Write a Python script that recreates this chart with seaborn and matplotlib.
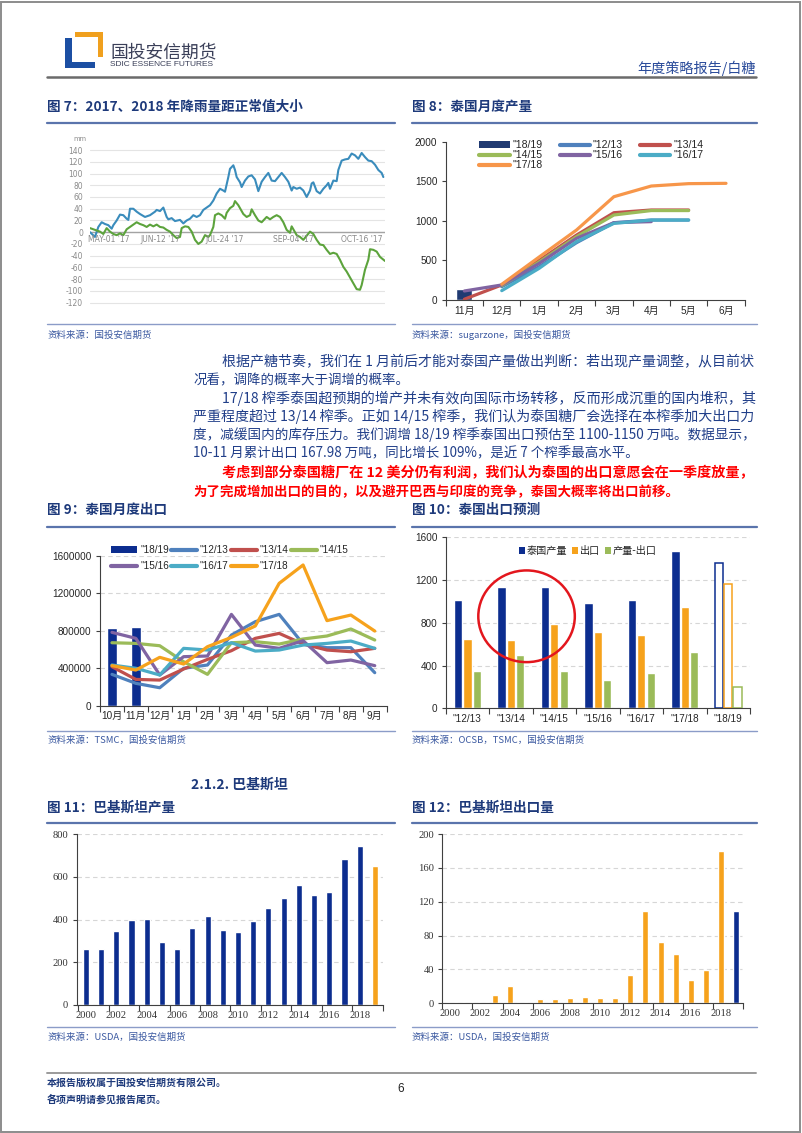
import numpy as np
import pandas as pd
import matplotlib
matplotlib.use("Agg")
import matplotlib.pyplot as plt
import seaborn as sns
from matplotlib.patches import Rectangle, Ellipse, Patch
from matplotlib.lines import Line2D

sns.set_theme(style="white")
plt.rcParams['font.family'] = ['Noto Sans CJK SC', 'DejaVu Sans']
plt.rcParams['axes.unicode_minus'] = False

# ---------------- data ----------------
# Fig 7: rainfall departure (mm), day index from late April 2017
rain_day_2017 = [0, 3, 5, 7, 9, 11, 13, 14, 16, 18, 20, 22, 23, 24, 26, 28, 30, 33, 36, 39, 40, 42, 44, 46, 47,
                 49, 51, 54, 56, 58, 60, 62, 64, 66, 68, 70, 72, 74, 76, 78, 80, 81, 83, 84, 86, 87, 88, 90, 91, 93,
                 95, 97, 99, 101, 103, 105, 107, 109, 111, 113, 115, 117, 119, 121, 122, 124, 126, 128, 130, 132,
                 133, 134, 136, 138, 140, 142, 143, 144, 146, 148, 149, 151, 153, 155, 157, 159, 161, 163, 165, 167,
                 169, 171, 173, 175, 176]
rain_2017 = [0, -8, 9, 17, 14, 12, 6, 12, 20, 30, 29, 23, 21, 40, 40, 35, 31, 26, 29, 35, 38, 36, 42, 26, 22,
             24, 19, 21, 15, 20, 23, 29, 26, 29, 38, 42, 46, 54, 66, 74, 71, 69, 94, 108, 114, 106, 94, 85, 77, 88,
             95, 97, 90, 70, 86, 94, 101, 88, 87, 94, 101, 94, 86, 71, 77, 74, 76, 71, 60, 71, 83, 85, 70, 66, 74,
             80, 84, 74, 88, 87, 106, 122, 124, 125, 134, 131, 125, 135, 128, 122, 121, 115, 106, 101, 94]
rain_day_2018 = [0, 3, 6, 8, 10, 12, 14, 16, 18, 20, 22, 24, 26, 28, 30, 32, 34, 36, 38, 40, 42, 44, 46, 48, 50,
                 52, 54, 55, 57, 59, 61, 63, 65, 67, 69, 71, 72, 74, 75, 77, 79, 81, 82, 84, 86, 87, 89, 90, 92, 94,
                 96, 97, 99, 101, 103, 105, 106, 108, 110, 112, 114, 116, 118, 120, 121, 122, 124, 126, 128, 130,
                 132, 134, 136, 138, 140, 142, 144, 146, 148, 150, 152, 154, 156, 158, 160, 162, 163, 165, 167, 168,
                 170, 172, 174, 177]
rain_2018 = [7, 4, 1, -3, 7, 1, -3, -5, -2, -5, 5, 9, 13, 17, 14, 12, 9, 13, 10, 13, 9, 8, 4, 1, -5,
             -10, -8, 7, 10, 9, 1, -13, -20, -16, -5, -8, -5, 9, 29, 32, 29, 23, 33, 41, 45, 53, 46, 41, 31, 26,
             29, 39, 29, 20, 17, 23, 26, 22, 26, 29, 26, 17, 4, -1, 10, 5, -5, -8, -13, -6, 1, -3, -13, -21, -22,
             -30, -37, -35, -37, -47, -59, -67, -77, -87, -97, -98, -90, -64, -47, -29, -30, -33, -42, -49]
rain_yticks = [-120, -100, -80, -60, -40, -20, 0, 20, 40, 60, 80, 100, 120, 140]
rain_tick_days = [11, 42, 81, 122, 163]
rain_tick_labels = ["MAY-01 '17", "JUN-12 '17", "JUL-24 '17", "SEP-04 '17", "OCT-16 '17"]

# Fig 8: Thai monthly cumulative production
prod_months = ['11月', '12月', '1月', '2月', '3月', '4月', '5月', '6月']
prod_1819 = [140]
prod_1213 = [np.nan, 168, 420, 724, 977, 1010, 1010, np.nan]
prod_1314 = [10, 190, 500, 820, 1103, 1137, 1137, np.nan]
prod_1415 = [np.nan, 180, 480, 800, 1074, 1130, 1130, np.nan]
prod_1516 = [114, 190, 463, 779, 977, 990, np.nan, np.nan]
prod_1617 = [np.nan, 118, 400, 737, 968, 1010, 1010, np.nan]
prod_1718 = [np.nan, 198, 543, 884, 1305, 1440, 1470, 1474]
prod_yticks = [0, 500, 1000, 1500, 2000]

season_labels = ['"18/19', '"12/13', '"13/14', '"14/15', '"15/16', '"16/17', '"17/18']

# Fig 9: Thai monthly exports
exp_months = ['10月', '11月', '12月', '1月', '2月', '3月', '4月', '5月', '6月', '7月', '8月', '9月']
exp_1819 = [826000, 845000]
exp_1213 = [335000, 239000, 192000, 400000, 435000, 755000, 898000, 976000, 660000, 620000, 620000, 353000]
exp_1314 = [417000, 281000, 274000, 392000, 495000, 588000, 720000, 773000, 659000, 595000, 577000, 613000]
exp_1415 = [673000, 666000, 641000, 470000, 335000, 673000, 684000, 659000, 713000, 745000, 820000, 702000]
exp_1516 = [784000, 720000, 328000, 524000, 531000, 976000, 648000, 613000, 695000, 460000, 488000, 428000]
exp_1617 = [435000, 400000, 328000, 613000, 595000, 673000, 584000, 595000, 648000, 666000, 691000, 613000]
exp_1718 = [428000, 381000, 517000, 445000, 631000, 730000, 852000, 1308000, 1504000, 909000, 969000, 798000]
exp_yticks = [0, 400000, 800000, 1200000, 1600000]

# Fig 10: Thai export forecast
fc_seasons = ['"12/13', '"13/14', '"14/15', '"15/16', '"16/17', '"17/18', '"18/19']
fc_items = ['泰国产量', '出口', '产量-出口']
fc_production = [1014, 1135, 1135, 982, 1014, 1475, 1357]
fc_export = [652, 639, 786, 717, 683, 945, 1160]
fc_surplus = [352, 496, 352, 262, 331, 527, 203]
fc_yticks = [0, 400, 800, 1200, 1600]

# Fig 11 / 12: Pakistan
pak_years = ['2000', '2001', '2002', '2003', '2004', '2005', '2006', '2007', '2008', '2009',
             '2010', '2011', '2012', '2013', '2014', '2015', '2016', '2017', '2018', '2019']
pak_production = [261, 264, 347, 397, 403, 294, 261, 362, 416, 350, 344, 392, 453, 503, 563, 517, 528, 683, 744, 653]
pak_exports = [0, 0, 0, 10, 20.5, 0, 5.5, 5.5, 6.3, 7.5, 6.3, 6.3, 34, 109, 72, 58, 27.6, 39.8, 179.5, 109.5]
pak_kind = ['预测' if y == '2019' else '历史' for y in pak_years]
pak_prod_yticks = [0, 200, 400, 600, 800]
pak_exp_yticks = [0, 40, 80, 120, 160, 200]

# ---------------- styling ----------------
NAVY = '#0c2d8f'
ORANGE = '#f6a21c'
GREEN = '#9bbb59'
TITLE_C = '#1e3a7b'
TXT_C = '#213f89'
RULE_C = '#5a74ac'
SRC_C = '#3a58a0'
SANS = ['Liberation Sans', 'Noto Sans CJK SC']
SERIF = ['Liberation Serif', 'Noto Sans CJK SC']

W, H = 802, 1133
fig = plt.figure(figsize=(W / 100, H / 100), dpi=100)
fig.patch.set_facecolor('white')


def add_ax(l, t, r, b):
    return fig.add_axes([l / W, 1 - b / H, (r - l) / W, (b - t) / H])


def ftext(x, y, s, **kw):
    return fig.text(x / W, 1 - y / H, s, **kw)


def hline(x0, x1, y, color, lw):
    fig.add_artist(Line2D([x0 / W, x1 / W], [1 - y / H, 1 - y / H], color=color, lw=lw,
                          transform=fig.transFigure))


def frect(x0, y0, x1, y1, color):
    fig.add_artist(Rectangle((x0 / W, 1 - y1 / H), (x1 - x0) / W, (y1 - y0) / H,
                             transform=fig.transFigure, facecolor=color, edgecolor='none'))


def set_font(ax, fam, size, color='#262626'):
    for lbl in ax.get_xticklabels() + ax.get_yticklabels():
        lbl.set_fontfamily(fam)
        lbl.set_fontsize(size)
        lbl.set_color(color)


def cat_axes(ax, n, ticks, labels, yticks, ylim, xlim, grid=False, minor_every=1):
    ax.set_xlim(*xlim)
    ax.set_ylim(*ylim)
    ax.set_xticks(ticks)
    ax.set_xticklabels(labels)
    ax.set_xticks(np.arange(-0.5, n, minor_every), minor=True)
    ax.set_yticks(yticks)
    ax.set_yticklabels([str(v) for v in yticks])
    ax.tick_params(axis='x', which='major', length=0, pad=4)
    ax.tick_params(axis='x', which='minor', length=4, width=0.8, bottom=True, color='#404040')
    ax.tick_params(axis='y', length=3, width=0.8, left=True, pad=3, color='#404040')
    for s in ['top', 'right']:
        ax.spines[s].set_visible(False)
    for s in ['left', 'bottom']:
        ax.spines[s].set_color('#404040')
        ax.spines[s].set_linewidth(0.8)
    ax.set_xlabel('')
    ax.set_ylabel('')
    if grid:
        ax.yaxis.grid(True, color='#d6d6d6', lw=0.8, ls=(0, (4, 3)))
        ax.set_axisbelow(True)


# ---------------- page frame / header / footer ----------------
fig.add_artist(Rectangle((0.001, 0.001), 0.997, 0.997, transform=fig.transFigure,
                         facecolor='none', edgecolor='#8c8c8c', lw=1.4))
frect(65, 38, 71.5, 68.3, '#1c4fa3')
frect(65, 61.7, 95, 68.3, '#1c4fa3')
frect(75, 31.7, 103.3, 37, '#f0a01e')
frect(97.5, 31.7, 103.3, 56.7, '#f0a01e')
ftext(110, 52, '国投安信期货', fontsize=12.8, color='#3a3f58', va='center', ha='left')
ftext(110, 65, 'SDIC ESSENCE FUTURES', fontsize=6.0, color='#3a3f58', va='center', ha='left',
      family='Liberation Sans')
ftext(756, 68, '年度策略报告/白糖', fontsize=10.2, color='#2b4c9b', va='center', ha='right')
hline(47, 756, 77, '#6b6b6b', 1.8)

hline(47, 756, 1073, '#9a9a9a', 1.4)
ftext(47, 1083, '本报告版权属于国投安信期货有限公司。', fontsize=7.2, color=TITLE_C, fontweight='bold',
      va='center')
ftext(47, 1099, '各项声明请参见报告尾页。', fontsize=7.2, color=TITLE_C, fontweight='bold', va='center')
ftext(401, 1089, '6', fontsize=8.5, color='#222222', va='center', ha='center', family='Liberation Sans')

# titles, rules and sources
for (x, y, s) in [(47, 107, '图 7：2017、2018 年降雨量距正常值大小'), (412, 107, '图 8：泰国月度产量'),
                  (47, 510, '图 9：泰国月度出口'), (412, 510, '图 10：泰国出口预测'),
                  (47, 808, '图 11：巴基斯坦产量'), (412, 808, '图 12：巴基斯坦出口量')]:
    ftext(x, y, s, fontsize=9.8, fontweight='bold', color=TITLE_C, va='center')
ftext(191, 785, '2.1.2. 巴基斯坦', fontsize=10, fontweight='bold', color=TITLE_C, va='center')
for y in [122.7, 526.7, 823.3]:
    hline(47, 395, y, RULE_C, 1.6)
    hline(412, 757, y, RULE_C, 1.6)
for y in [324, 730.7, 1026.7]:
    hline(47, 395, y, '#8b9cc8', 1.0)
    hline(412, 757, y, '#8b9cc8', 1.0)
for (x, y, s) in [(47, 335, '资料来源：国投安信期货'), (412, 335, '资料来源：sugarzone，国投安信期货'),
                  (47, 740, '资料来源：TSMC，国投安信期货'), (412, 740, '资料来源：OCSB，TSMC，国投安信期货'),
                  (47, 1036.7, '资料来源：USDA，国投安信期货'), (412, 1036.7, '资料来源：USDA，国投安信期货')]:
    ftext(x, y, s, fontsize=6.8, color=SRC_C, va='center', style='italic')

# paragraph (full lines stretched to the right margin)
para = [
    (221.7, 361.7, '根据产糖节奏，我们在 1 月前后才能对泰国产量做出判断：若出现产量调整，从目前状', TXT_C, 'normal', True),
    (193.3, 380.0, '况看，调降的概率大于调增的概率。', TXT_C, 'normal', False),
    (221.7, 398.3, '17/18 榨季泰国超预期的增产并未有效向国际市场转移，反而形成沉重的国内堆积，其', TXT_C, 'normal', True),
    (193.3, 416.7, '严重程度超过 13/14 榨季。正如 14/15 榨季，我们认为泰国糖厂会选择在本榨季加大出口力', TXT_C, 'normal', True),
    (193.3, 435.0, '度，减缓国内的库存压力。我们调增 18/19 榨季泰国出口预估至 1100-1150 万吨。数据显示，', TXT_C, 'normal', True),
    (193.3, 453.3, '10-11 月累计出口 167.98 万吨，同比增长 109%，是近 7 个榨季最高水平。', TXT_C, 'normal', False),
    (221.7, 473.3, '考虑到部分泰国糖厂在 12 美分仍有利润，我们认为泰国的出口意愿会在一季度放量，', '#ff0000', 'bold', True),
    (193.3, 491.7, '为了完成增加出口的目的，以及避开巴西与印度的竞争，泰国大概率将出口前移。', '#ff0000', 'bold', False),
]
renderer = fig.canvas.get_renderer()
BASE_FS = 9.7
for x, y, s, c, w, full in para:
    t = ftext(x, y, s, fontsize=BASE_FS, color=c, fontweight=w, va='center', ha='left')
    if full:
        width = t.get_window_extent(renderer).width
        scale = min(max((756 - x) / width, 1.0), 1.06)
        t.set_fontsize(BASE_FS * scale)

# ---------------- Fig 7 ----------------
ax7 = add_ax(90, 147.1, 385, 305.6)
ax7.axhline(0, color='#a3a3a3', lw=1.0, zorder=1)
sns.lineplot(x=rain_day_2017, y=rain_2017, ax=ax7, color='#3a8cbc', lw=1.5, estimator=None)
sns.lineplot(x=rain_day_2018, y=rain_2018, ax=ax7, color='#5ca33c', lw=1.5, estimator=None)
ax7.set_xlim(0, 177)
ax7.set_ylim(-125, 145)
ax7.set_yticks(rain_yticks)
ax7.set_yticklabels([str(v) for v in rain_yticks])
ax7.set_xticks([])
ax7.yaxis.grid(True, color='#e4e4e4', lw=0.8)
ax7.set_axisbelow(True)
for s in ax7.spines.values():
    s.set_visible(False)
ax7.tick_params(axis='y', length=0, pad=5)
set_font(ax7, 'DejaVu Sans', 5.5, '#8a8a8a')
for d, lab in zip(rain_tick_days, rain_tick_labels):
    ax7.text(d, -13, lab, ha='center', va='center', fontsize=5.5, color='#8a8a8a', family='DejaVu Sans')
ftext(73, 139, 'mm', fontsize=4.8, color='#8a8a8a', family='DejaVu Sans', va='center')

# ---------------- Fig 8 ----------------
ax8 = add_ax(445.7, 141.7, 744.7, 300)
sns.barplot(x=['11月'], y=prod_1819, order=prod_months, color='#203a72', width=0.43, saturation=1, ax=ax8)
prod_series = [prod_1213, prod_1314, prod_1415, prod_1516, prod_1617, prod_1718]
prod_colors = ['#4f81bd', '#c0504d', '#9bbb59', '#8064a2', '#4bacc6', '#f7964a']
for vals, col in zip(prod_series, prod_colors):
    xs = [i for i, v in enumerate(vals) if not np.isnan(v)]
    ys = [v for v in vals if not np.isnan(v)]
    sns.lineplot(x=xs, y=ys, ax=ax8, color=col, lw=2.3, estimator=None)
cat_axes(ax8, 8, range(8), prod_months, prod_yticks, (0, 2000), (-0.5, 7.5))
set_font(ax8, SANS, 7.2)
h8 = [Patch(facecolor='#203a72', edgecolor='none')] + [Line2D([], [], color=c, lw=3) for c in prod_colors]
ord8 = [0, 3, 6, 1, 4, 2, 5]  # row-wise fill for 3 columns
ax8.legend([h8[i] for i in ord8], [season_labels[i] for i in ord8], ncol=3, loc='upper left',
           bbox_to_anchor=(474 / W, 1 - 135 / H), bbox_transform=fig.transFigure, frameon=False,
           handlelength=2.9, handleheight=0.55, handletextpad=0.25, columnspacing=1.6, labelspacing=0.0,
           borderpad=0, prop={'family': SANS, 'size': 7.6})

# ---------------- Fig 9 ----------------
ax9 = add_ax(100, 556, 386.7, 705.7)
sns.barplot(x=['10月', '11月'], y=exp_1819, order=exp_months, color=NAVY, width=0.41, saturation=1, ax=ax9)
exp_series = [exp_1213, exp_1314, exp_1415, exp_1516, exp_1617, exp_1718]
exp_colors = ['#4f81bd', '#c0504d', '#9bbb59', '#8064a2', '#4bacc6', ORANGE]
for vals, col in zip(exp_series, exp_colors):
    sns.lineplot(x=list(range(len(vals))), y=vals, ax=ax9, color=col, lw=2.3, estimator=None)
cat_axes(ax9, 12, range(12), exp_months, exp_yticks, (0, 1600000), (-0.35, 11.5), grid=True)
set_font(ax9, SANS, 7.2)
h9 = [Patch(facecolor=NAVY, edgecolor='none')] + [Line2D([], [], color=c, lw=3) for c in exp_colors]
ord9 = [0, 4, 1, 5, 2, 6, 3]  # row-wise fill for 4 columns
ax9.legend([h9[i] for i in ord9], [season_labels[i] for i in ord9], ncol=4, loc='upper left',
           bbox_to_anchor=(106 / W, 1 - 540 / H), bbox_transform=fig.transFigure, frameon=False,
           handlelength=2.6, handleheight=0.6, handletextpad=0.3, columnspacing=0.2, labelspacing=0.6,
           borderpad=0, prop={'family': SANS, 'size': 7.2})

# ---------------- Fig 10 ----------------
ax10 = add_ax(445.7, 537.3, 750, 708.3)
df10 = pd.DataFrame({'season': fc_seasons * 3,
                     'value': fc_production + fc_export + fc_surplus,
                     'item': [fc_items[0]] * 7 + [fc_items[1]] * 7 + [fc_items[2]] * 7})
sns.barplot(df10, x='season', y='value', hue='item', hue_order=fc_items, order=fc_seasons,
            palette=[NAVY, ORANGE, GREEN], width=0.645, gap=0.12, saturation=1, legend=False, ax=ax10)
for cont, col in zip(ax10.containers, [NAVY, ORANGE, GREEN]):
    p = cont.patches[-1]
    p.set_facecolor('white')
    p.set_edgecolor(col)
    p.set_linewidth(1.1)
cat_axes(ax10, 7, range(7), fc_seasons, fc_yticks, (0, 1600), (-0.5, 6.5), grid=True)
set_font(ax10, SANS, 7.2)
h10 = [Patch(facecolor=c, edgecolor='none') for c in [NAVY, ORANGE, GREEN]]
ax10.legend(h10, fc_items, ncol=3, loc='upper left', bbox_to_anchor=(514 / W, 1 - 541 / H),
            bbox_transform=fig.transFigure, frameon=False, handlelength=0.55, handleheight=0.55,
            handletextpad=0.2, columnspacing=0.5, borderpad=0, prop={'size': 7.3})
ax10.add_patch(Ellipse((1.36, 861), 2.22, 858, facecolor='none', edgecolor='#e3161d', lw=1.8, zorder=5))

# ---------------- Fig 11 ----------------
ax11 = add_ax(76.7, 834.3, 383.3, 1005)
df11 = pd.DataFrame({'year': pak_years, 'value': pak_production, 'kind': pak_kind})
sns.barplot(df11, x='year', y='value', hue='kind', palette={'历史': NAVY, '预测': ORANGE}, order=pak_years,
            dodge=False, width=0.4, saturation=1, legend=False, ax=ax11)
cat_axes(ax11, 20, range(0, 20, 2), pak_years[::2], pak_prod_yticks, (0, 800), (-0.6, 19.55), grid=True,
         minor_every=2)
set_font(ax11, SERIF, 7.6, '#333333')

# ---------------- Fig 12 ----------------
ax12 = add_ax(442.3, 834, 743.3, 1003.3)
df12 = pd.DataFrame({'year': pak_years, 'value': pak_exports, 'kind': pak_kind})
sns.barplot(df12, x='year', y='value', hue='kind', palette={'历史': ORANGE, '预测': NAVY}, order=pak_years,
            dodge=False, width=0.4, saturation=1, legend=False, ax=ax12)
cat_axes(ax12, 20, range(0, 20, 2), pak_years[::2], pak_exp_yticks, (0, 200), (-0.5, 19.45), grid=True,
         minor_every=2)
set_font(ax12, SERIF, 7.6, '#333333')

fig.savefig('out.png', dpi=100, facecolor='white')
